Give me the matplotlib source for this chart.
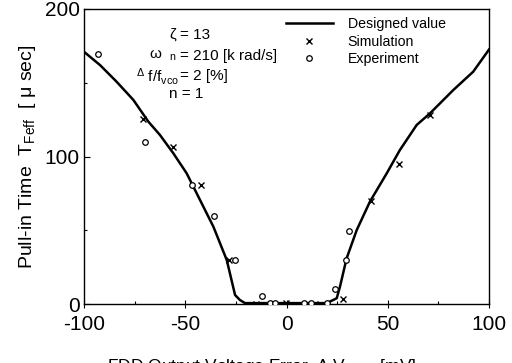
import numpy as np
import matplotlib
matplotlib.use("Agg")
import matplotlib.pyplot as plt
from matplotlib.ticker import MultipleLocator

plt.rcParams['font.family'] = ['Liberation Sans', 'DejaVu Sans']
plt.rcParams['mathtext.fontset'] = 'custom'
plt.rcParams['mathtext.rm'] = 'Liberation Sans'
plt.rcParams['mathtext.it'] = 'Liberation Sans'
plt.rcParams['axes.unicode_minus'] = False

# designed value (solid line)
design_x = [-100, -92.1, -83.9, -75.6, -68.2, -62.5, -55.9, -49.3, -42.7, -36.1, -29.5, -25.4, -23, -20.5,
            0, 19.9, 24.8, 26.4, 29.7, 34.7, 41.2, 49.5, 56, 64.3, 70.9, 82.4, 92.2, 100]
design_y = [171, 162, 150.7, 138.3, 123.6, 114.6, 102.2, 88.6, 70.5, 52.4, 29.8, 6.1, 2.7, 0.6,
            0.6, 0.6, 3.9, 11.7, 31, 50.2, 69.4, 88.6, 104.4, 121.4, 129.3, 145.1, 157.5, 172.5]

# simulation (x markers)
sim_x = [-70.9, -56, -42.4, -28.4, -14.9, -0.4, 13.9, 27.9, 41.9, 55.4, 70.7]
sim_y = [125.7, 106.5, 80.4, 29.7, 0.3, 0.7, 0.3, 3.6, 69.8, 95.1, 128.2]

# experiment (open circles)
exp_x = [-93.1, -70.0, -46.7, -35.8, -25.6, -12.1, -8.3, -5.8, 8.6, 12.3, 20.2, 24.1, 29.2, 30.7]
exp_y = [169.4, 110.1, 80.4, 59.6, 30.1, 5.2, 0.5, 0.5, 0.5, 0.5, 0.5, 10.2, 30.1, 49.8]

fig = plt.figure(figsize=(5.12, 3.63), dpi=100)
ax = fig.add_axes([84 / 512, 1 - 304 / 363, 405 / 512, 295 / 363])

ax.plot(design_x, design_y, color='black', lw=1.8, label='Designed value', zorder=3)
ax.plot(sim_x, sim_y, ls='none', marker='x', ms=4, mew=1.0, color='black', label='Simulation', zorder=4)
ax.plot(exp_x, exp_y, ls='none', marker='o', ms=4, mew=0.9, mfc='white', mec='black', label='Experiment', zorder=4)

ax.set_xlim(-100, 100)
ax.set_ylim(0, 200)
ax.xaxis.set_major_locator(MultipleLocator(50))
ax.xaxis.set_minor_locator(MultipleLocator(25))
ax.yaxis.set_major_locator(MultipleLocator(100))
ax.yaxis.set_minor_locator(MultipleLocator(50))
ax.tick_params(which='both', direction='in', labelsize=15, width=0.8)
ax.tick_params(which='major', length=4, pad=3)
ax.tick_params(axis='x', which='major', direction='inout', length=6, pad=5)
ax.tick_params(which='minor', length=2.5)
for s in ax.spines.values():
    s.set_linewidth(1.0)

ax.legend(loc='upper left', frameon=False, fontsize=10.2, handlelength=3.3,
          handletextpad=1.05, labelspacing=0.25, borderpad=0, borderaxespad=0,
          bbox_to_anchor=(0.499, 0.972))

# parameter text, split at the "=" column
eq_x = -52.6
ax.text(eq_x - 1.5, 182.4, r'$\zeta$', fontsize=11, ha='right', va='center')
ax.text(eq_x, 182.4, '= 13', fontsize=11, ha='left', va='center')
ax.text(eq_x - 1.5, 168.3, r'$\omega$  $_{\rm n}$', fontsize=11, ha='right', va='center')
ax.text(eq_x, 168.3, '= 210 [k rad/s]', fontsize=11, ha='left', va='center')
ax.text(eq_x - 0.5, 154.5, r'$^{\Delta}$ f/f$_{\rm vco}$', fontsize=11, ha='right', va='center')
ax.text(eq_x, 154.5, '= 2 [%]', fontsize=11, ha='left', va='center')
ax.text(eq_x + 3, 142.7, 'n = 1', fontsize=11, ha='center', va='center')

ax.set_ylabel(r'Pull-in Time  T$_{\rm Feff}$  [ $\mu$ sec]', fontsize=14, labelpad=5)
fig.text(262 / 512, 6 / 363, r'FDD Output Voltage Error  $\Delta$ V$_{\rm FDD}$  [mV]',
         ha='center', va='top', fontsize=12.5)

fig.savefig('out.png', dpi=100)
